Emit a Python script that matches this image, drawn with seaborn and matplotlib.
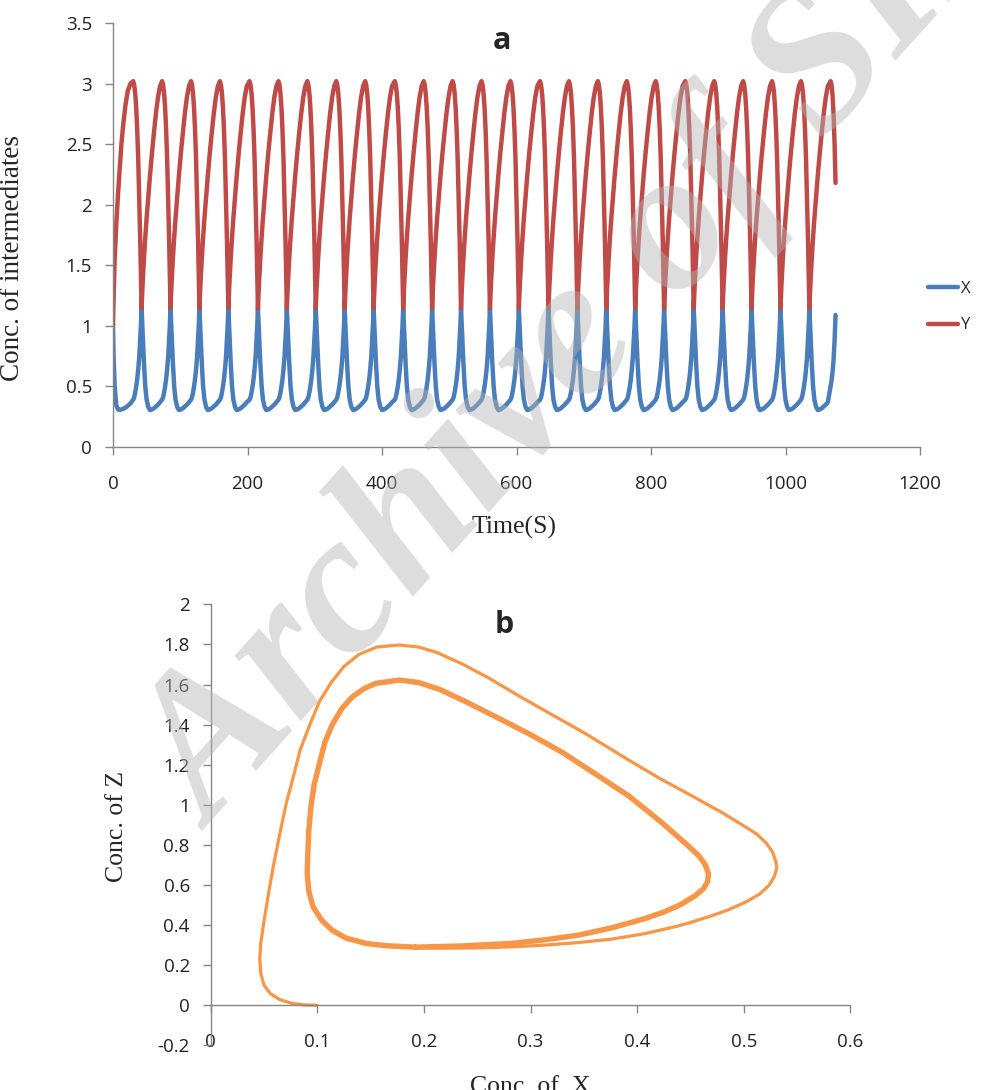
import matplotlib
matplotlib.use("Agg")
import matplotlib.pyplot as plt
import numpy as np
import pandas as pd
import seaborn as sns

# ---- panel a : X and Y against time ----
# times (s) where Y reaches its maximum
y_peak_times = [30, 73, 116, 159, 203, 246, 289, 332, 375, 419, 462, 505, 548,
                591, 635, 678, 721, 764, 807, 851, 894, 937, 980, 1023, 1067]

# first stretch, before the first Y maximum
start_t = [0, 1, 2.5, 5, 7.5, 10, 12.5, 15, 18.5, 22, 26]
start_x = [1.0, 0.72, 0.50, 0.34, 0.31, 0.305, 0.31, 0.315, 0.325, 0.34, 0.36]
start_y = [1.0, 1.25, 1.55, 1.85, 2.09, 2.30, 2.50, 2.65, 2.82, 2.94, 3.00]

# one oscillation, seconds after a Y maximum
cycle_offsets = [0, 1.5, 3, 4.5, 6, 7.5, 9, 10.5, 11.5, 12.5, 14, 16, 18,
                 20, 22.5, 25, 28, 31, 34, 37, 40]
cycle_x = [0.39, 0.41, 0.45, 0.50, 0.56, 0.64, 0.74, 0.89, 1.00, 1.145, 0.95,
           0.70, 0.50, 0.39, 0.33, 0.305, 0.31, 0.32, 0.335, 0.35, 0.37]
cycle_y = [3.02, 2.99, 2.92, 2.80, 2.62, 2.38, 2.05, 1.70, 1.44, 1.145, 1.34,
           1.55, 1.73, 1.89, 2.07, 2.24, 2.43, 2.60, 2.76, 2.89, 2.98]

# last stretch after the final Y maximum
end_offsets = [0, 1.5, 3, 4.5, 6, 7.4]
end_x = [0.50, 0.55, 0.62, 0.72, 0.88, 1.09]
end_y = [3.02, 2.99, 2.90, 2.74, 2.50, 2.18]

# ---- panel b : Z against X ----
# first (transient) loop
transient_x = [0.100, 0.088, 0.076, 0.065, 0.056, 0.050, 0.047, 0.046, 0.047,
               0.050, 0.054, 0.059, 0.065, 0.071, 0.078, 0.084, 0.093, 0.102,
               0.113, 0.125, 0.139, 0.156, 0.177, 0.195, 0.212, 0.235, 0.260,
               0.290, 0.320, 0.350, 0.390, 0.420, 0.453, 0.480, 0.500, 0.512,
               0.521, 0.527, 0.530, 0.531, 0.529, 0.524, 0.515, 0.502, 0.485,
               0.469, 0.450, 0.438, 0.407, 0.376, 0.345, 0.313, 0.280, 0.250,
               0.220, 0.192]
transient_z = [0.000, 0.002, 0.010, 0.028, 0.058, 0.100, 0.160, 0.230, 0.310,
               0.420, 0.550, 0.700, 0.860, 1.010, 1.150, 1.275, 1.400, 1.515,
               1.610, 1.690, 1.750, 1.787, 1.797, 1.787, 1.760, 1.705, 1.635,
               1.540, 1.450, 1.360, 1.230, 1.135, 1.040, 0.960, 0.895, 0.855,
               0.810, 0.765, 0.720, 0.685, 0.645, 0.600, 0.555, 0.515, 0.475,
               0.445, 0.413, 0.395, 0.357, 0.330, 0.313, 0.300, 0.291, 0.286,
               0.285, 0.286]
# limit cycle, traced again and again
loop_x = [0.192, 0.165, 0.146, 0.127, 0.114, 0.104, 0.096, 0.092, 0.0905,
          0.091, 0.092, 0.094, 0.097, 0.102, 0.107, 0.114, 0.123, 0.133,
          0.144, 0.155, 0.177, 0.195, 0.215, 0.239, 0.267, 0.300, 0.330,
          0.360, 0.392, 0.423, 0.448, 0.458, 0.464, 0.467, 0.466, 0.462,
          0.454, 0.440, 0.425, 0.407, 0.376, 0.345, 0.314, 0.283, 0.236,
          0.192]
loop_z = [0.290, 0.297, 0.308, 0.335, 0.374, 0.425, 0.491, 0.570, 0.660,
          0.740, 0.870, 0.990, 1.100, 1.206, 1.310, 1.400, 1.480, 1.539,
          1.580, 1.606, 1.622, 1.610, 1.575, 1.515, 1.440, 1.350, 1.261,
          1.157, 1.045, 0.912, 0.795, 0.745, 0.700, 0.655, 0.615, 0.580,
          0.545, 0.500, 0.465, 0.432, 0.386, 0.350, 0.327, 0.309, 0.296,
          0.290]

# build the time series from the read-off pieces
t_vals, x_vals, y_vals = list(start_t), list(start_x), list(start_y)
for tp in y_peak_times[:-1]:
    t_vals += [tp + o for o in cycle_offsets]
    x_vals += cycle_x
    y_vals += cycle_y
t_vals += [y_peak_times[-1] + o for o in end_offsets]
x_vals += end_x
y_vals += end_y

df_a = pd.DataFrame({"time": t_vals * 2,
                     "conc": x_vals + y_vals,
                     "species": ["X"] * len(t_vals) + ["Y"] * len(t_vals)})

sns.set_style("white")
plt.rcParams["font.family"] = ["Open Sans", "DejaVu Sans"]

GREY = "#868686"
fig = plt.figure(figsize=(9.84, 10.9), dpi=100)

# ---------------- panel a ----------------
ax1 = fig.add_axes([113 / 984, 1 - 447 / 1090, 807 / 984, 424 / 1090])
sns.lineplot(data=df_a, x="time", y="conc", hue="species",
             palette={"X": "#4a7ebb", "Y": "#be4b48"}, estimator=None,
             sort=False, lw=3.2, ax=ax1)
ax1.set_xlim(0, 1200)
ax1.set_ylim(0, 3.5)
ax1.set_xticks(np.arange(0, 1201, 200))
ax1.set_yticks(np.arange(0, 3.51, 0.5))
ax1.set_yticklabels([f"{v:g}" for v in np.arange(0, 3.51, 0.5)])
ax1.set_xlabel("Time(S)", family="Liberation Serif", fontsize=18.5)
ax1.set_ylabel("Conc. of intermediates", family="Liberation Serif", fontsize=19.5)
ax1.xaxis.set_label_coords(0.497, -0.163)
ax1.yaxis.set_label_coords(-0.109, 0.446)
ax1.text(0.482, 0.958, "a", transform=ax1.transAxes, ha="center", va="center",
         fontsize=22, fontweight="bold")
ax1.legend(title=None, frameon=False, loc="center left",
           bbox_to_anchor=(1.01, 0.33), borderaxespad=0, borderpad=0,
           handlelength=1.8, handletextpad=0.15, labelspacing=1.25,
           fontsize=12)

# ---------------- panel b ----------------
ax2 = fig.add_axes([210.7 / 984, 1 - 1045.4 / 1090, 639.6 / 984, 441.1 / 1090])
sns.lineplot(x=transient_x, y=transient_z, sort=False, estimator=None,
             color="#f79646", lw=2.3, ax=ax2)
sns.lineplot(x=loop_x, y=loop_z, sort=False, estimator=None,
             color="#f79646", lw=3.9, ax=ax2)
ax2.set_xlim(0, 0.6)
ax2.set_ylim(-0.2, 2)
ax2.set_xticks(np.arange(0, 0.61, 0.1))
ax2.set_xticklabels([f"{v:g}" for v in np.round(np.arange(0, 0.61, 0.1), 1)])
ax2.set_yticks(np.arange(-0.2, 2.01, 0.2))
ax2.set_yticklabels([f"{v:g}" for v in np.round(np.arange(-0.2, 2.01, 0.2), 1)])
ax2.spines["bottom"].set_position(("data", 0))
ax2.set_xlabel("Conc. of  X", family="Liberation Serif", fontsize=18.5)
ax2.set_ylabel("Conc. of Z", family="Liberation Serif", fontsize=18.5)
ax2.xaxis.set_label_coords(0.499, -0.070)
ax2.yaxis.set_label_coords(-0.129, 0.497)
ax2.text(0.459, 0.953, "b", transform=ax2.transAxes, ha="center", va="center",
         fontsize=22, fontweight="bold")

for ax in (ax1, ax2):
    sns.despine(ax=ax)
    for s in ("left", "bottom"):
        ax.spines[s].set_color(GREY)
        ax.spines[s].set_linewidth(1.0)
    ax.tick_params(axis="both", which="major", direction="out", length=6,
                   width=1, color=GREY, labelsize=13.5, labelcolor="#222222",
                   left=True, bottom=True)
    ax.tick_params(axis="y", pad=9)
    ax.grid(False)
ax1.tick_params(axis="x", pad=14)
ax2.tick_params(axis="x", pad=14)

# watermark over the whole page
fig.text(0.605, 0.695, "Archive of SID", rotation=48, ha="center", va="center",
         fontsize=145, family="Liberation Serif", fontweight="bold",
         style="italic", color="#b4b4b4", alpha=0.45, zorder=10)

fig.savefig("out.png", dpi=100)
